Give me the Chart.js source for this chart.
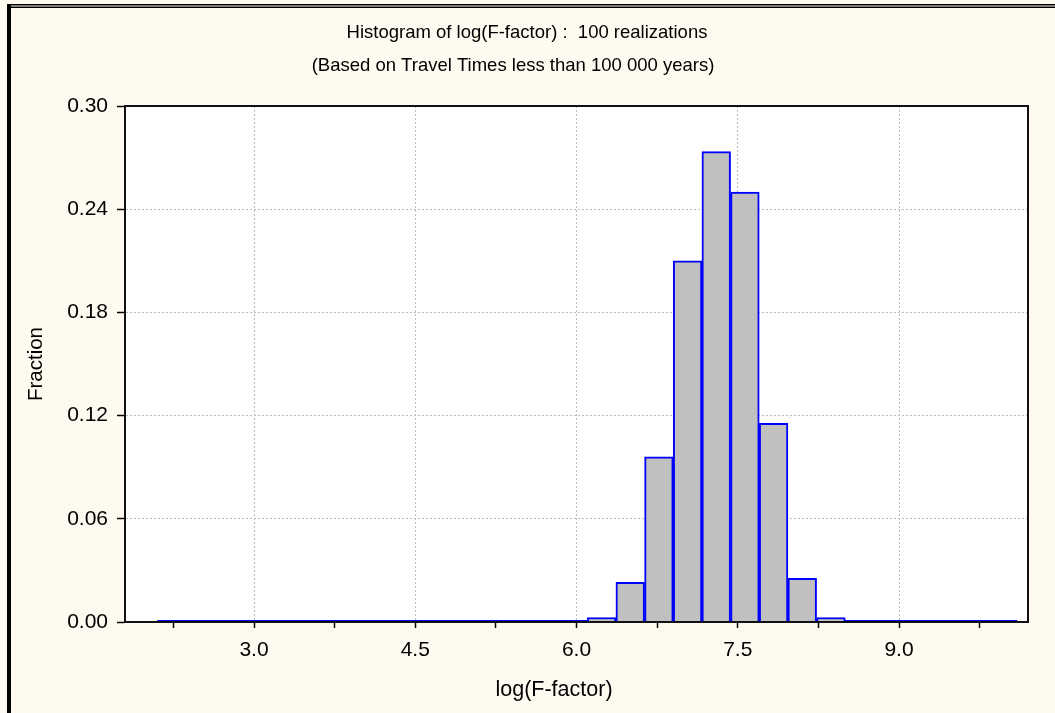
<!DOCTYPE html>
<html>
<head>
<meta charset="utf-8">
<script src="https://cdn.jsdelivr.net/npm/chart.js@4/dist/chart.umd.min.js"></script>
<style>
  html, body { margin: 0; padding: 0; background: #fffaef; }
  #wrap { width: 1055px; height: 713px; position: relative; }
</style>
</head>
<body>
<div id="wrap"><canvas id="chart"></canvas></div>
<script>
// histogram bins: 30 equal bins between binMin and binMax
const binMin = 2.1
const binMax = 10.1
const fractions = [
  0, 0, 0, 0, 0, 0, 0, 0, 0, 0,
  0, 0, 0, 0, 0, 0.0026, 0.023, 0.096, 0.21, 0.2735,
  0.25, 0.1155, 0.0254, 0.0026, 0, 0, 0, 0, 0, 0
]

const xMajorTicks = [3.0, 4.5, 6.0, 7.5, 9.0]
const xMinorTicks = [2.25, 3.75, 5.25, 6.75, 8.25, 9.75]
const yTicks = [0, 0.06, 0.12, 0.18, 0.24, 0.30]

const titleLines = [
  'Histogram of log(F-factor) :  100 realizations',
  '(Based on Travel Times less than 100 000 years)'
]
const xTitle = 'log(F-factor)'
const yTitle = 'Fraction'

const binWidth = (binMax - binMin) / fractions.length
const barPoints = fractions.map((f, i) => ({ x: binMin + (i + 0.5) * binWidth, y: f }))

const FONT = "'Liberation Sans', Arial, sans-serif"

// cream page, white plot area, black frame lines, titles
const framePlugin = {
  id: 'frame',
  beforeDraw(chart) {
    const { ctx, chartArea: a } = chart
    ctx.save()
    ctx.fillStyle = '#fffaef'
    ctx.fillRect(0, 0, chart.width, chart.height)
    ctx.fillStyle = '#000'
    ctx.fillRect(7, 4, chart.width - 7, 1.5)
    ctx.fillRect(7, 6.5, chart.width - 7, 1.5)
    ctx.fillRect(7, 4, 4, chart.height - 4)
    ctx.fillStyle = '#ffffff'
    ctx.fillRect(a.left, a.top, a.right - a.left, a.bottom - a.top)
    ctx.restore()
  },
  afterDatasetsDraw(chart) {
    const { ctx, chartArea: a } = chart
    ctx.save()
    ctx.strokeStyle = '#111'
    ctx.lineWidth = 2
    ctx.strokeRect(a.left, a.top, a.right - a.left, a.bottom - a.top)
    ctx.fillStyle = '#000'
    ctx.textAlign = 'center'
    ctx.textBaseline = 'middle'
    ctx.font = '18.5px ' + FONT
    ctx.fillText(titleLines[0], 527, 33)
    ctx.fillText(titleLines[1], 513, 66)
    // x axis title sits a bit left of the plot centre in the original
    ctx.font = '21.5px ' + FONT
    ctx.fillText(xTitle, 554, 690)
    ctx.restore()
  }
}

const ctx = document.getElementById('chart').getContext('2d')

new Chart(ctx, {
  type: 'bar',
  data: {
    datasets: [
      {
        type: 'bar',
        data: barPoints,
        backgroundColor: '#c0c0c0',
        borderColor: '#0000ff',
        borderWidth: 2,
        borderSkipped: 'start',
        barPercentage: 1,
        categoryPercentage: 1,
        order: 1
      },
      {
        // empty bins show as a flat blue line on the axis
        type: 'line',
        data: [{ x: binMin, y: 0 }, { x: binMax, y: 0 }],
        borderColor: '#0000ff',
        borderWidth: 4,
        pointRadius: 0,
        clip: { left: 5, right: 5, top: 5, bottom: 0 },
        order: 2
      }
    ]
  },
  options: {
    responsive: true,
    maintainAspectRatio: false,
    animation: false,
    layout: { padding: { left: 0, right: 27, top: 106, bottom: 0 } },
    plugins: {
      legend: { display: false },
      tooltip: { enabled: false },
      title: { display: false }
    },
    scales: {
      x: {
        type: 'linear',
        min: 1.8,
        max: 10.2,
        offset: false,
        afterFit: s => { s.height = 91 },
        afterBuildTicks: s => {
          s.ticks = [...xMinorTicks, ...xMajorTicks].sort((a, b) => a - b).map(v => ({ value: v }))
        },
        grid: {
          offset: false,
          color: c => xMajorTicks.includes(c.tick && c.tick.value) ? '#bcbcbc' : 'rgba(0,0,0,0)',
          lineWidth: 1,
          tickColor: '#000',
          tickLength: 6,
          tickWidth: 1.5,
          tickBorderDash: []
        },
        border: { color: '#000', width: 2, dash: [2, 2] },
        ticks: {
          autoSkip: false,
          maxRotation: 0,
          padding: 10,
          color: '#000',
          font: { family: FONT, size: 21 },
          callback: v => xMajorTicks.includes(v) ? v.toFixed(1) : ''
        },
        title: { display: false }
      },
      y: {
        min: 0,
        max: 0.30,
        afterFit: s => { s.width = 125 },
        afterBuildTicks: s => { s.ticks = yTicks.map(v => ({ value: v })) },
        grid: {
          color: '#bcbcbc',
          lineWidth: 1,
          tickColor: '#000',
          tickLength: 8,
          tickWidth: 1.5,
          tickBorderDash: []
        },
        border: { color: '#000', width: 2, dash: [2, 2] },
        ticks: {
          padding: 9,
          color: '#000',
          font: { family: FONT, size: 21 },
          callback: v => v.toFixed(2)
        },
        title: {
          display: true,
          text: yTitle,
          color: '#000',
          font: { family: FONT, size: 20.5 },
          padding: { top: 24, bottom: 0 }
        }
      }
    }
  },
  plugins: [framePlugin]
})
</script>
</body>
</html>
